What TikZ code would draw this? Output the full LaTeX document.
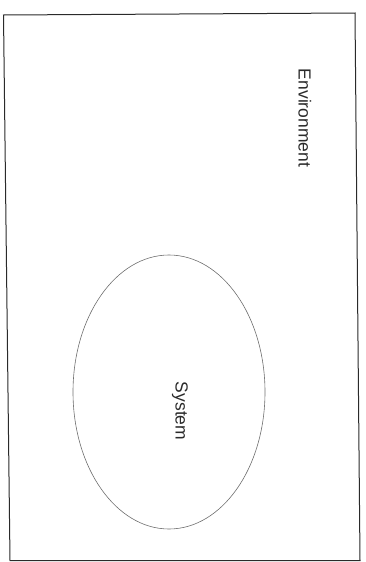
\documentclass[tikz,border=0pt]{standalone}
\usepackage{fontspec}
\setmainfont{Liberation Sans}
\usepackage{tikz}
\usetikzlibrary{shapes.geometric}
\definecolor{ink}{HTML}{2A2A2A}
\definecolor{rim}{HTML}{6E6E6E}

\begin{document}
\begin{tikzpicture}[
  x=1pt, y=-1pt,
  frame/.style={draw=ink, line width=1pt, line join=miter},
  blob/.style={ellipse, draw=rim, line width=0.6pt, inner sep=0pt,
    minimum width=192pt, minimum height=274pt},
  tag/.style={rotate=-90, text=ink, font=\fontsize{17.5}{20}\selectfont, inner sep=0pt},
]
  \useasboundingbox (0,0) rectangle (365,562);
  % slightly skewed outer border (scanned page)
  \coordinate (nw) at (3.5,15);
  \coordinate (ne) at (355,13);
  \coordinate (se) at (360,560.5);
  \coordinate (sw) at (10,560.5);
  \draw[frame] (nw) -- (ne) -- (se) -- (sw) -- cycle;

  \node[blob] (sys) at (169,392) {};
  \node[tag] (envlabel) at (305,118) {Environment};
  \node[tag] (syslabel) at (180,411) {System};
\end{tikzpicture}
\end{document}
